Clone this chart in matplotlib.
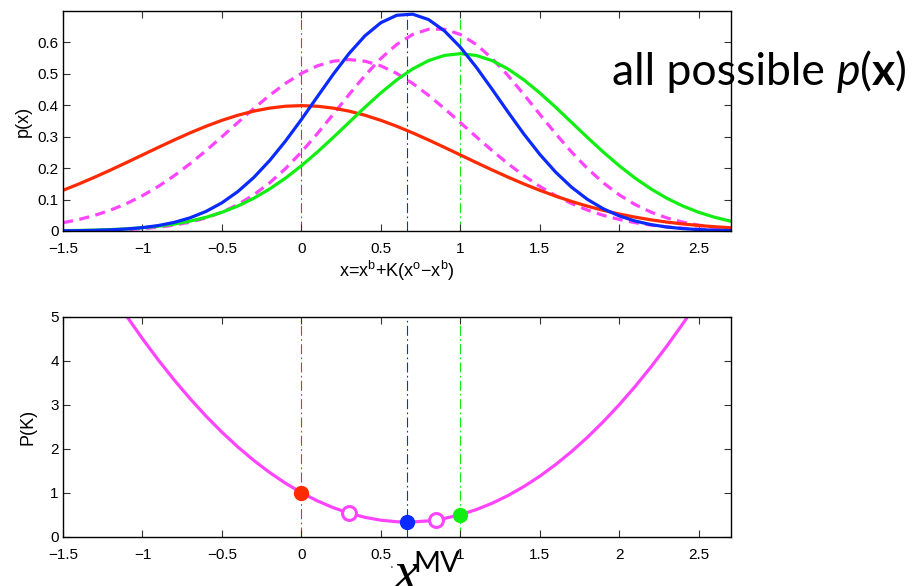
import numpy as np
import matplotlib
matplotlib.use("Agg")
import matplotlib.pyplot as plt
from matplotlib.offsetbox import TextArea, HPacker, AnnotationBbox

plt.rcParams["font.family"] = ["Liberation Sans", "DejaVu Sans"]
plt.rcParams["mathtext.fontset"] = "custom"
plt.rcParams["mathtext.rm"] = "Liberation Sans"
plt.rcParams["mathtext.it"] = "Liberation Sans:italic"
plt.rcParams["axes.unicode_minus"] = True

# ── data ─────────────────────────────────────────────────────────────────────
x = np.round(np.arange(-1.5, 2.701, 0.1), 2)

# background pdf, K = 0
p_red = [0.1295, 0.1497, 0.1714, 0.1942, 0.2179, 0.2420, 0.2661, 0.2897, 0.3123,
         0.3332, 0.3521, 0.3683, 0.3814, 0.3910, 0.3970, 0.3989, 0.3970, 0.3910,
         0.3814, 0.3683, 0.3521, 0.3332, 0.3123, 0.2897, 0.2661, 0.2420, 0.2179,
         0.1942, 0.1714, 0.1497, 0.1295, 0.1109, 0.0940, 0.0790, 0.0656, 0.0540,
         0.0440, 0.0355, 0.0283, 0.0224, 0.0175, 0.0136, 0.0104]
# observation pdf, K = 1
p_green = [0.0011, 0.0018, 0.0028, 0.0045, 0.0069, 0.0103, 0.0153, 0.0221, 0.0314,
           0.0436, 0.0595, 0.0795, 0.1041, 0.1337, 0.1682, 0.2076, 0.2510, 0.2975,
           0.3456, 0.3936, 0.4394, 0.4808, 0.5156, 0.5421, 0.5586, 0.5642, 0.5586,
           0.5421, 0.5156, 0.4808, 0.4394, 0.3936, 0.3456, 0.2975, 0.2510, 0.2076,
           0.1682, 0.1337, 0.1041, 0.0795, 0.0595, 0.0436, 0.0314]
# minimum variance, K = 2/3
p_blue = [0.0006, 0.0011, 0.0021, 0.0037, 0.0064, 0.0107, 0.0174, 0.0274, 0.0420,
          0.0623, 0.0897, 0.1254, 0.1701, 0.2240, 0.2862, 0.3548, 0.4269, 0.4984,
          0.5648, 0.6211, 0.6628, 0.6864, 0.6899, 0.6728, 0.6368, 0.5849, 0.5214,
          0.4510, 0.3786, 0.3084, 0.2439, 0.1871, 0.1393, 0.1006, 0.0706, 0.0480,
          0.0317, 0.0203, 0.0126, 0.0076, 0.0045, 0.0025, 0.0014]
# K = 0.3
p_k03 = [0.0264, 0.0366, 0.0498, 0.0666, 0.0873, 0.1124, 0.1420, 0.1760, 0.2142,
         0.2558, 0.2999, 0.3450, 0.3896, 0.4317, 0.4696, 0.5014, 0.5254, 0.5403,
         0.5454, 0.5403, 0.5254, 0.5014, 0.4696, 0.4317, 0.3896, 0.3450, 0.2999,
         0.2558, 0.2142, 0.1760, 0.1420, 0.1124, 0.0873, 0.0666, 0.0498, 0.0366,
         0.0264, 0.0187, 0.0130, 0.0088, 0.0059, 0.0039, 0.0025]
# K = 0.85
p_k085 = [0.0005, 0.0009, 0.0016, 0.0027, 0.0045, 0.0075, 0.0119, 0.0186, 0.0282,
          0.0416, 0.0599, 0.0841, 0.1150, 0.1531, 0.1987, 0.2512, 0.3094, 0.3714,
          0.4343, 0.4947, 0.5490, 0.5936, 0.6254, 0.6419, 0.6419, 0.6254, 0.5936,
          0.5490, 0.4947, 0.4343, 0.3714, 0.3094, 0.2512, 0.1987, 0.1531, 0.1150,
          0.0841, 0.0599, 0.0416, 0.0282, 0.0186, 0.0119, 0.0075]

# analysis error variance P(K)
P_K = [7.375, 6.74, 6.135, 5.56, 5.015, 4.5, 4.015, 3.56, 3.135, 2.74, 2.375, 2.04,
       1.735, 1.46, 1.215, 1.0, 0.815, 0.66, 0.535, 0.44, 0.375, 0.34, 0.335, 0.36,
       0.415, 0.5, 0.615, 0.76, 0.935, 1.14, 1.375, 1.64, 1.935, 2.26, 2.615, 3.0,
       3.415, 3.86, 4.335, 4.84, 5.375, 5.94, 6.535]

K_marks = [0.0, 2 / 3, 1.0]
P_marks = [1.0, 1 / 3, 0.5]
K_open = [0.3, 0.85]
P_open = [0.535, 0.38375]

x_ticks = [-1.5, -1, -0.5, 0, 0.5, 1, 1.5, 2, 2.5]
x_ticklabels = ["\u22121.5", "\u22121", "\u22120.5", "0", "0.5", "1", "1.5", "2", "2.5"]
y1_ticks = [0, 0.1, 0.2, 0.3, 0.4, 0.5, 0.6]
y1_ticklabels = ["0", "0.1", "0.2", "0.3", "0.4", "0.5", "0.6"]
y2_ticks = [0, 1, 2, 3, 4, 5]

RED = "#ff2a00"
GREEN = "#11ee11"
BLUE = "#0a2aff"
MAGENTA = "#ff44ff"
DASHDOT = (0, (9, 3, 1.5, 3))


def style_axes(ax):
    ax.set_xlim(-1.5, 2.7)
    ax.set_xticks(x_ticks)
    ax.set_xticklabels(x_ticklabels)
    ax.tick_params(direction="in", top=True, right=True, length=5, width=0.8,
                   color="#333333", labelsize=11)
    ax.tick_params(axis="x", pad=8)
    ax.tick_params(axis="y", pad=3)
    for sp in ax.spines.values():
        sp.set_linewidth(1.0)
        sp.set_color("black")


fig = plt.figure(figsize=(9.15, 5.86), dpi=100)
ax1 = fig.add_axes([63 / 915, 1 - 231 / 586, 667.5 / 915, 220 / 586])
ax2 = fig.add_axes([63 / 915, 1 - 536.7 / 586, 667.5 / 915, 220 / 586])

# ── top: pdfs ────────────────────────────────────────────────────────────────
for xv, c in zip(K_marks, [RED, BLUE, GREEN]):
    ax1.axvline(xv, color=c, lw=0.8, linestyle=DASHDOT, zorder=1)
ax1.plot(x, p_k03, color=MAGENTA, lw=2.3, linestyle=(0, (3.2, 2)))
ax1.plot(x, p_k085, color=MAGENTA, lw=2.3, linestyle=(0, (3.2, 2)))
ax1.plot(x, p_red, color=RED, lw=2.3)
ax1.plot(x, p_green, color=GREEN, lw=2.3)
ax1.plot(x, p_blue, color=BLUE, lw=2.3)
style_axes(ax1)
ax1.set_ylim(0, 0.7)
ax1.set_yticks(y1_ticks)
ax1.set_yticklabels(y1_ticklabels)
ax1.set_ylabel("p(x)", fontsize=13, labelpad=4)
ax1.set_xlabel(r"x=x$^{\rm b}$+K(x$^{\rm o}$$-$x$^{\rm b}$)", fontsize=13, labelpad=2)

# ── bottom: P(K) ─────────────────────────────────────────────────────────────
for xv, c in zip(K_marks, [RED, BLUE, GREEN]):
    ax2.axvline(xv, color=c, lw=0.8, linestyle=DASHDOT, zorder=1)
ax2.plot(x, P_K, color=MAGENTA, lw=2.3, zorder=2)
ax2.plot(K_open, P_open, "o", ms=10, mfc="white", mec=MAGENTA, mew=2.2,
         ls="none", zorder=3)
for kv, pv, c in zip(K_marks, P_marks, [RED, BLUE, GREEN]):
    ax2.plot(kv, pv, "o", ms=10, color=c, zorder=4)
style_axes(ax2)
ax2.set_ylim(0, 5)
ax2.set_yticks(y2_ticks)
ax2.set_ylabel("P(K)", fontsize=13, labelpad=10)

# ── annotations ──────────────────────────────────────────────────────────────
big = dict(family="Lato", size=32, color="black")
parts = [
    TextArea("all possible ", textprops=big),
    TextArea("p", textprops=dict(big, style="italic")),
    TextArea("(", textprops=big),
    TextArea("x", textprops=dict(big, weight="bold")),
    TextArea(")", textprops=big),
]
title_box = HPacker(children=parts, align="baseline", pad=0, sep=0)
fig.add_artist(AnnotationBbox(title_box, (612 / 915, 1 - 93 / 586),
                              xycoords="figure fraction", box_alignment=(0, 0),
                              frameon=False, pad=0))

fig.text(390 / 915, 1 - 568 / 586, ".", fontsize=10, color="#444444")
fig.text(394 / 915, 1 - 590 / 586, "x", family="Liberation Serif",
         style="italic", fontsize=40)
fig.text(413 / 915, 1 - 572 / 586, "MV", family="Lato", fontsize=21)

fig.savefig("out.png", dpi=100)
